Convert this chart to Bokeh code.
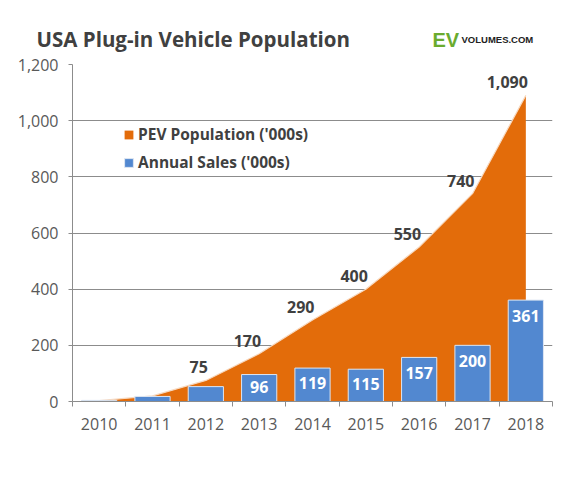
from bokeh.plotting import figure
from bokeh.layouts import column
from bokeh.models import (Range1d, FixedTicker, NumeralTickFormatter,
                          Legend, LegendItem, ColumnDataSource)
from bokeh.core.properties import value
from bokeh.embed import file_html
from bokeh.resources import INLINE

# data ('000s)
years = ["2010", "2011", "2012", "2013", "2014", "2015", "2016", "2017", "2018"]
pev_population = [3, 20, 75, 170, 290, 400, 550, 740, 1090]
annual_sales = [4, 18, 53, 96, 119, 115, 157, 200, 361]
pop_labels = ["", "", "75", "170", "290", "400", "550", "740", "1,090"]
sales_labels = ["", "", "", "96", "119", "115", "157", "200", "361"]
y_ticks = [0, 200, 400, 600, 800, 1000, 1200]

FONT = "Open Sans"
ORANGE = "#e36c0a"
BLUE = "#5288d0"
GRID = "#8c8c8c"
W = 567

# header strip: title and logo (pixel coordinates, y down)
head = figure(width=W, height=52, output_backend="svg", toolbar_location=None,
              x_range=Range1d(0, W), y_range=Range1d(52, 0),
              x_axis_location=None, y_axis_location=None,
              min_border=0, outline_line_color=None)
if "frame_align" in head.properties():
    head.frame_align = False  # keep the header frame full width
head.grid.visible = False
head.text(x=[36], y=[38], text=["USA Plug-in Vehicle Population"],
          text_align="left", text_baseline="alphabetic",
          text_font=value(FONT), text_font_style="bold",
          text_font_size="20.5px", text_color="#404040")
head.text(x=[432], y=[39], text=["EV"], text_align="left", text_baseline="alphabetic",
          text_font=value("Liberation Sans"), text_font_style="bold",
          text_font_size="20px", text_color="#6aab2e")
head.text(x=[461], y=[39], text=["VOLUMES.COM"], text_align="left",
          text_baseline="alphabetic",
          text_font=value("Liberation Sans"), text_font_style="bold",
          text_font_size="9.5px", text_color="#222222")

xs = list(range(len(years)))
src = ColumnDataSource(data=dict(
    x=xs, pop=pev_population, sales=annual_sales,
    pop_label=pop_labels, sales_label=sales_labels,
    # bar labels sit inside the top of the bar
    sales_label_y=[max(v - 55, v * 0.55) for v in annual_sales],
))

p = figure(width=W, height=420, output_backend="svg", toolbar_location=None,
           x_range=Range1d(-0.5, len(years) - 0.5), y_range=Range1d(0, 1200),
           min_border_left=72, min_border_right=15,
           min_border_top=12, min_border_bottom=71)
if "frame_align" in p.properties():
    p.frame_align = False
p.outline_line_color = None
p.xgrid.grid_line_color = None
p.ygrid.grid_line_color = GRID
p.ygrid.grid_line_width = 1

# area for the population, bars for annual sales
area = p.varea(x="x", y1=0, y2="pop", source=src, fill_color=ORANGE)
p.line(x="x", y="pop", source=src, line_color="#f7d9c0", line_width=1.2)
bars = p.vbar(x="x", top="sales", width=0.66, source=src, fill_color=BLUE,
              line_color="#dde6f2", line_width=1)

p.text(x="x", y="pop", text="pop_label", source=src, text_align="right",
       text_baseline="bottom", x_offset=2, y_offset=-7,
       text_font=value(FONT), text_font_style="bold",
       text_font_size="16px", text_color="#404040")
p.text(x="x", y="sales_label_y", text="sales_label", source=src,
       text_align="center", text_baseline="middle",
       text_font=value(FONT), text_font_style="bold",
       text_font_size="16px", text_color="white")

# axes
p.yaxis.ticker = FixedTicker(ticks=y_ticks)
p.yaxis.formatter = NumeralTickFormatter(format="0,0")
p.xaxis.ticker = FixedTicker(ticks=xs, minor_ticks=[i - 0.5 for i in range(len(years) + 1)])
p.xaxis.major_label_overrides = {i: y for i, y in enumerate(years)}
p.xaxis.minor_tick_line_color = GRID
p.xaxis.minor_tick_in = 0
p.xaxis.minor_tick_out = 5
p.yaxis.major_tick_in = 0
p.yaxis.major_tick_out = 4
p.yaxis.minor_tick_line_color = None
for ax in (p.xaxis, p.yaxis):
    ax.axis_line_color = GRID
    ax.major_label_text_font = FONT
    ax.major_label_text_font_size = "16px"
    ax.major_label_text_color = "#595959"
p.yaxis.major_tick_line_color = GRID
p.xaxis.major_tick_line_color = None
p.xaxis.major_label_standoff = 10
p.yaxis.major_label_standoff = 10

legend = Legend(items=[LegendItem(label="PEV Population ('000s)", renderers=[area]),
                       LegendItem(label="Annual Sales ('000s)", renderers=[bars])],
                location=(51, 228), padding=0, margin=0, spacing=6,
                glyph_width=11, glyph_height=11, label_standoff=4,
                label_text_font=FONT, label_text_font_style="bold",
                label_text_font_size="15.5px", label_text_color="#404040",
                border_line_color=None, background_fill_alpha=0)
p.add_layout(legend, "center")

open("out.html", "w").write(file_html(column(head, p, spacing=0), INLINE))
